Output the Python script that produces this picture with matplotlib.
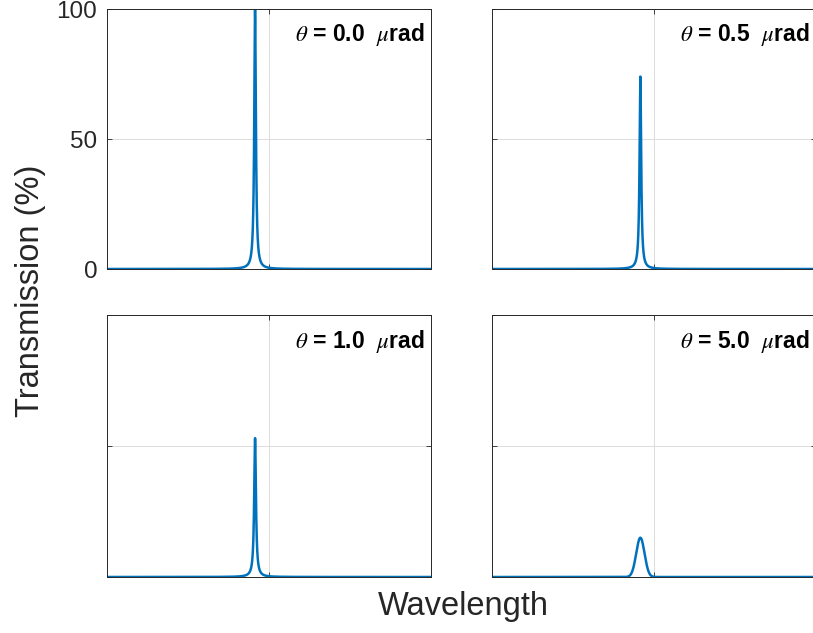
import numpy as np
import matplotlib
matplotlib.use("Agg")
import matplotlib.pyplot as plt

plt.rcParams['font.family'] = ['Liberation Sans', 'DejaVu Sans']
plt.rcParams['mathtext.fontset'] = 'stix'

# Tilt angle of each panel (µrad) and the resulting transmission peak
angles_urad = [0.0, 0.5, 1.0, 5.0]
peak_transmission = [100.0, 74.0, 53.0, 15.0]      # %
peak_position = [0.457, 0.457, 0.457, 0.457]       # normalised wavelength
peak_fwhm = [0.006, 0.006, 0.0065, 0.030]          # normalised wavelength
peak_shape = ['lorentz', 'lorentz', 'lorentz', 'gauss']

y_ticks = [0, 50, 100]
x_grid = [0.5]

LINE_COLOR = '#0072BD'
TEXT_COLOR = '#262626'


def profile(x, height, center, fwhm, shape):
    if shape == 'lorentz':
        g = fwhm / 2.0
        return height * g**2 / ((x - center)**2 + g**2)
    s = fwhm / (2.0 * np.sqrt(2.0 * np.log(2.0)))
    return height * np.exp(-0.5 * ((x - center) / s)**2)


W, H = 813, 633
fig = plt.figure(figsize=(W / 100, H / 100), dpi=100)

# panel boxes in pixels: left, top, width, height
boxes = [(107, 9, 324, 260), (492.3, 9, 324, 260),
         (107, 315, 324, 262), (492.3, 315, 324, 262)]

x = np.linspace(0, 1, 6001)
for i, (l, t, w, h) in enumerate(boxes):
    ax = fig.add_axes([l / W, 1 - (t + h) / H, w / W, h / H])
    y = profile(x, peak_transmission[i], peak_position[i], peak_fwhm[i], peak_shape[i])
    ax.plot(x, y, color=LINE_COLOR, lw=1.8, solid_joinstyle='round')
    ax.set_xlim(0, 1)
    ax.set_ylim(0, 100)
    ax.set_xticks(x_grid)
    ax.set_yticks(y_ticks)
    ax.set_xticklabels([])
    if i == 0:
        ax.set_yticklabels([str(v) for v in y_ticks])
    else:
        ax.set_yticklabels([])
    ax.tick_params(direction='in', length=3.5, width=0.6, colors=TEXT_COLOR,
                   labelsize=17.5, top=True, right=True, pad=7)
    ax.grid(True, color='#dcdcdc', lw=0.7)
    ax.set_axisbelow(True)
    for sp in ax.spines.values():
        sp.set_color(TEXT_COLOR)
        sp.set_linewidth(0.7)
    ax.text(0.980, 0.90, r'$\theta$ = %.1f  $\mu$rad' % angles_urad[i],
            transform=ax.transAxes, ha='right', va='center',
            fontsize=16.5, fontweight='bold', color='black')

fig.text(463 / W, 1 - 606 / H, 'Wavelength', ha='center', va='center',
         fontsize=23.5, color=TEXT_COLOR)
fig.text(30 / W, 1 - 291 / H, 'Transmission (%)', ha='center', va='center',
         rotation=90, fontsize=23.5, color=TEXT_COLOR)

fig.savefig('out.png', dpi=100)
